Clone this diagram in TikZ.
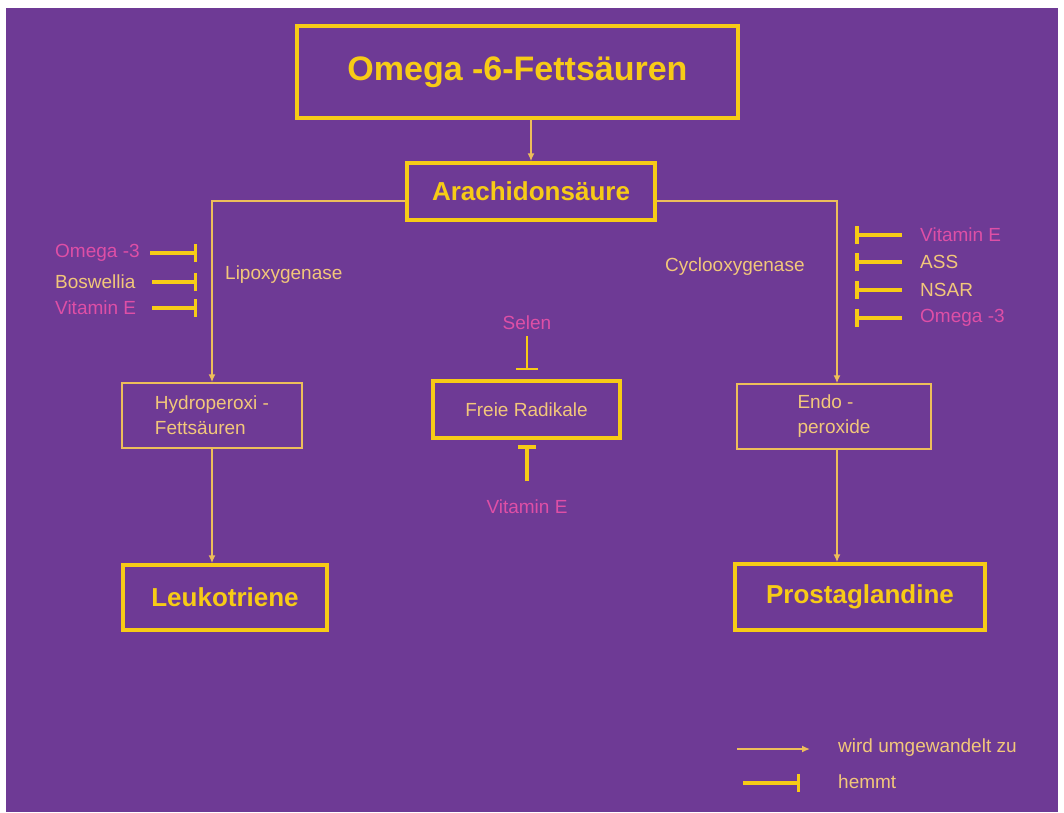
\documentclass[tikz,border=0pt]{standalone}
\usepackage{fontspec}
\setmainfont{Liberation Sans}
\usetikzlibrary{arrows.meta,calc}
\definecolor{bgpurple}{HTML}{6E3A95}
\definecolor{gold}{HTML}{F7CB16}
\definecolor{thinline}{HTML}{EDBE5A}
\definecolor{tan}{HTML}{F2C77A}
\definecolor{pinkc}{HTML}{DE4FA6}
\begin{document}
\begin{tikzpicture}[x=1pt,y=-1pt,
  thickbox/.style={draw=gold,line width=3.5pt,inner sep=0pt},
  thinbox/.style={draw=thinline,line width=1.5pt,inner sep=0pt},
  head/.style={text=gold,font=\fontsize{26}{30}\selectfont\bfseries},
  reg/.style={text=tan,font=\fontsize{19}{25}\selectfont,inner sep=0pt},
  pinktxt/.style={text=pinkc,font=\fontsize{19}{25}\selectfont,inner sep=0pt},
  conv/.style={draw=thinline,line width=1.5pt,-{Latex[length=8pt,width=7pt]}},
  inhib/.style={draw=gold,line width=3.5pt,-{Bar[width=18pt]}},
  inhibthin/.style={draw=gold,line width=2.5pt,-{Bar[width=22pt]}}
]
\useasboundingbox (0,0) rectangle (1064,812);
\fill[white] (0,0) rectangle (1064,812);
\fill[bgpurple] (6,8) rectangle (1058,812);

% main boxes
\node[thickbox,minimum width=441pt,minimum height=92pt,text=gold,
      font=\fontsize{34}{40}\selectfont\bfseries] (omega) at (517.5,72) {Omega -6-Fettsäuren};
\node[thickbox,head,minimum width=248pt,minimum height=57pt] (arach) at (531,191.5) {Arachidonsäure};
\node[thinbox,reg,align=left,minimum width=180pt,minimum height=65pt] (hydro) at (212,415.5) {Hydroperoxi -\\Fettsäuren};
\node[thinbox,reg,align=left,minimum width=194pt,minimum height=65pt] (endo) at (834,416.5) {Endo -\\peroxide};
\node[thickbox,reg,minimum width=187pt,minimum height=57pt] (frei) at (526.5,409.5) {Freie Radikale};
\node[thickbox,head,minimum width=204pt,minimum height=65pt] (leuko) at (225,597.5) {Leukotriene};
\node[thickbox,head,minimum width=250pt,minimum height=66pt] (prost) at (860,597) {Prostaglandine};

% conversions
\draw[conv] (arach.north |- omega.south) -- (arach.north);
\draw[conv] ([yshift=-9.5pt]arach.west) -| (hydro.north);
\draw[conv] ([yshift=-9.5pt]arach.east) -| ([xshift=3pt]endo.north);
\draw[conv] (hydro.south) -- (hydro.south |- leuko.north);
\draw[conv] ([xshift=3pt]endo.south) -- ([xshift=3pt]endo.south |- prost.north);

% enzyme labels
\node[reg,anchor=west] (lipo) at (225,275) {Lipoxygenase};
\node[reg,anchor=west] (cyclo) at (665,267) {Cyclooxygenase};

% left inhibitors
\node[pinktxt,anchor=west] (lo3) at (55,253) {Omega -3};
\node[reg,anchor=west] (lbos) at (55,282) {Boswellia};
\node[pinktxt,anchor=west] (lvite) at (55,308) {Vitamin E};
\coordinate (lo3s) at (150,253);   \coordinate (lo3e) at (197,253);
\coordinate (lboss) at (152,282);  \coordinate (lbose) at (197,282);
\coordinate (lvites) at (152,308); \coordinate (lvitee) at (197,308);
\draw[inhib] (lo3s) -- (lo3e);
\draw[inhib] (lboss) -- (lbose);
\draw[inhib] (lvites) -- (lvitee);

% right inhibitors
\node[pinktxt,anchor=west] (rvite) at (920,235) {Vitamin E};
\node[reg,anchor=west] (rass) at (920,262) {ASS};
\node[reg,anchor=west] (rnsar) at (920,290) {NSAR};
\node[pinktxt,anchor=west] (ro3) at (920,318) {Omega -3};
\coordinate (rvites) at (902,235); \coordinate (rvitee) at (855,235);
\coordinate (rasss) at (902,262);  \coordinate (rasse) at (855,262);
\coordinate (rnsars) at (902,290); \coordinate (rnsare) at (855,290);
\coordinate (ro3s) at (902,318);   \coordinate (ro3e) at (855,318);
\draw[inhib] (rvites) -- (rvitee);
\draw[inhib] (rasss) -- (rasse);
\draw[inhib] (rnsars) -- (rnsare);
\draw[inhib] (ro3s) -- (ro3e);

% free radicals inhibitors
\node[pinktxt] (selen) at (527,323) {Selen};
\node[pinktxt] (fvite) at (527,507) {Vitamin E};
\coordinate (sels) at (527,336); \coordinate (sele) at (527,370);
\coordinate (fvs) at (527,481);  \coordinate (fve) at (527,445);
\draw[inhibthin] (sels) -- (sele);
\draw[inhib] (fvs) -- (fve);

% legend
\coordinate (la1) at (737,749); \coordinate (la2) at (810,749);
\coordinate (lb1) at (743,783); \coordinate (lb2) at (800,783);
\draw[conv] (la1) -- (la2);
\draw[inhib] (lb1) -- (lb2);
\node[reg,anchor=west] (legconv) at (838,748) {wird umgewandelt zu};
\node[reg,anchor=west] (leginh) at (838,782) {hemmt};
\end{tikzpicture}
\end{document}
